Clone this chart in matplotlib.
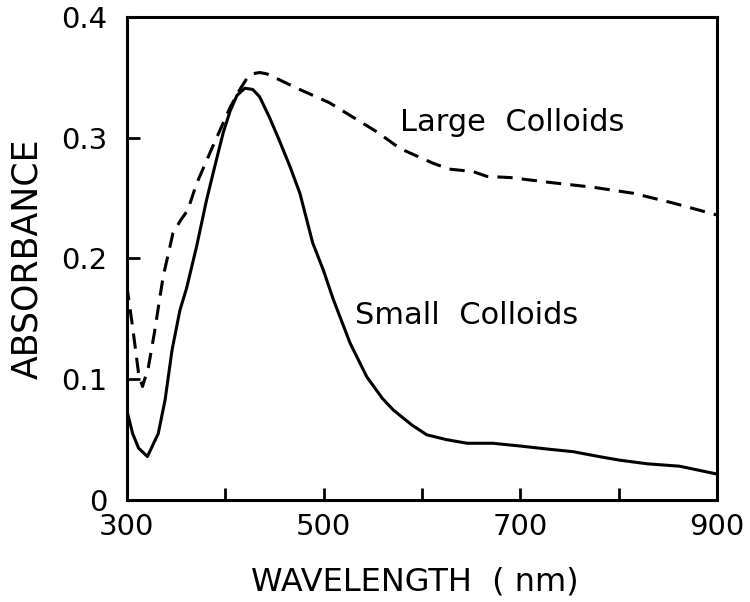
import matplotlib
matplotlib.use("Agg")
import matplotlib.pyplot as plt

# small colloids (solid line)
small_wl = [300, 306, 312, 321, 332, 339, 346, 354, 361, 371, 381, 390, 398, 405,
            412, 420, 428, 435, 445, 455, 466, 476, 489, 500, 510, 527, 544, 560,
            571, 590, 605, 625, 646, 672, 700, 730, 754, 780, 801, 829, 862, 900]
small_abs = [0.0745, 0.055, 0.043, 0.036, 0.055, 0.083, 0.124, 0.157, 0.176, 0.21,
             0.248, 0.278, 0.304, 0.322, 0.335, 0.341, 0.340, 0.334, 0.317, 0.298,
             0.276, 0.254, 0.213, 0.19, 0.166, 0.130, 0.102, 0.084, 0.0745, 0.062,
             0.054, 0.050, 0.047, 0.047, 0.0447, 0.042, 0.040, 0.036, 0.033, 0.030,
             0.028, 0.0215]

# large colloids (dashed line)
large_wl = [300, 306, 312, 316, 322, 328, 337, 347, 355, 362, 371, 387, 405, 415,
            422, 428, 435, 442, 450, 473, 506, 554, 578, 611, 628, 652, 666, 690,
            730, 774, 815, 855, 900]
large_abs = [0.178, 0.143, 0.105, 0.094, 0.11, 0.138, 0.185, 0.221, 0.232, 0.240,
             0.262, 0.292, 0.325, 0.340, 0.349, 0.353, 0.354, 0.353, 0.350, 0.341,
             0.329, 0.305, 0.291, 0.279, 0.274, 0.272, 0.268, 0.267, 0.263, 0.259,
             0.254, 0.246, 0.236]

x_ticks = [300, 400, 500, 600, 700, 800, 900]
x_labels = ["300", "", "500", "", "700", "", "900"]
y_ticks = [0, 0.1, 0.2, 0.3, 0.4]
y_labels = ["0", "0.1", "0.2", "0.3", "0.4"]

fig = plt.figure(figsize=(7.5, 6.02), dpi=100)
ax = fig.add_axes([0.169, 0.1694, 0.787, 0.8024])

ax.plot(small_wl, small_abs, color="black", lw=2.2, solid_joinstyle="round")
ax.plot(large_wl, large_abs, color="black", lw=2.2, dashes=(5, 3))

ax.set_xlim(300, 900)
ax.set_ylim(0, 0.4)

ax.set_xticks(x_ticks)
ax.set_xticklabels(x_labels, fontsize=21)
ax.set_yticks(y_ticks)
ax.set_yticklabels(y_labels, fontsize=21)
ax.tick_params(axis="x", direction="in", length=9, width=2, pad=9)
ax.tick_params(axis="y", direction="in", length=9, width=2, pad=14)

for s in ax.spines.values():
    s.set_linewidth(2.2)

ax.text(578, 0.313, "Large  Colloids", fontsize=22, va="center", ha="left")
ax.text(532, 0.153, "Small  Colloids", fontsize=22, va="center", ha="left")

ax.set_xlabel("WAVELENGTH  ( nm)", fontsize=23)
ax.xaxis.set_label_coords(0.488, -0.138)
ax.set_ylabel("ABSORBANCE", fontsize=25, labelpad=12)

fig.savefig("out.png", dpi=100)
